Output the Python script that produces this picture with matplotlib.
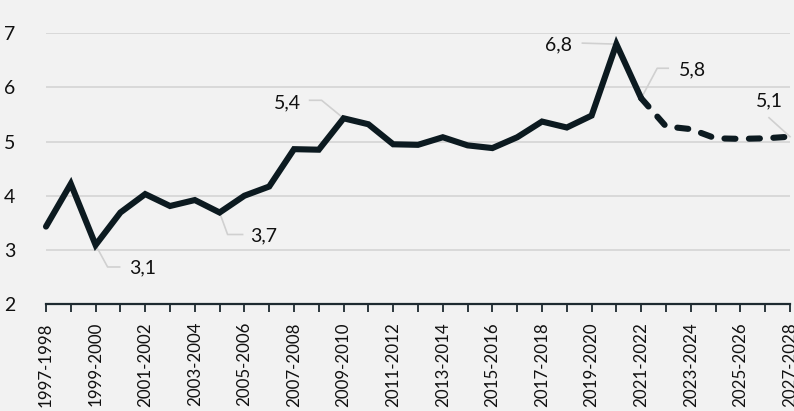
import matplotlib
matplotlib.use("Agg")
import matplotlib.pyplot as plt
from matplotlib.transforms import IdentityTransform
import numpy as np

plt.rcParams['font.family'] = ['Lato', 'DejaVu Sans']

years = [f"{y}-{y+1}" for y in range(1997, 2028)]
values = [3.43, 4.22, 3.09, 3.69, 4.03, 3.81, 3.92, 3.69, 4.00, 4.17,
          4.86, 4.85, 5.43, 5.32, 4.95, 4.94, 5.08, 4.93, 4.88, 5.08,
          5.37, 5.26, 5.48, 6.80, 5.80, 5.28, 5.23, 5.06, 5.05, 5.06, 5.09]
forecast_start = 24  # index from which the line is dashed
labels = {2: "3,1", 7: "3,7", 12: "5,4", 23: "6,8", 24: "5,8", 30: "5,1"}

# leader-line offsets (pixels, y down) and text centre offsets
leader = {2: [(12, 22), (24, 22)], 7: [(8, 22), (23, 22)],
          12: [(-22, -18), (-34, -18)], 23: [(-34, -1)],
          24: [(16, -30), (27, -30)], 30: [(-21, -19)]}
textoff = {2: (47, 23), 7: (44, 23), 12: (-56, -15), 23: (-58, 1),
           24: (51, -28), 30: (-21, -36)}

BG = '#f2f2f2'
LC = '#0c1a20'

fig = plt.figure(figsize=(7.94, 4.11), dpi=100, facecolor=BG)
ax = fig.add_axes([46/794, (411-304)/411, (790-46)/794, (304-33.3)/411])
ax.set_facecolor(BG)

x = np.arange(len(values))
ax.plot(x[:forecast_start+1], values[:forecast_start+1], color=LC, lw=4.4,
        solid_capstyle='round', solid_joinstyle='miter', clip_on=False, zorder=3)
ax.plot(x[forecast_start:], values[forecast_start:], color=LC, lw=4.4,
        dashes=(1.8, 2.2), dash_capstyle='round', clip_on=False, zorder=3)

ax.set_xlim(0, len(values)-1)
ax.set_ylim(2, 7)
ax.set_yticks([2, 3, 4, 5, 6, 7])
ax.yaxis.grid(True, color='#d9d9d9', lw=1.4)
ax.set_axisbelow(True)
ax.tick_params(axis='y', length=0, pad=22, labelsize=14, labelcolor='#111111')
ax.set_xticks(x)
ax.set_xticklabels([lab if i % 2 == 0 else '' for i, lab in enumerate(years)],
                   rotation=90, fontsize=12.2, color='#111111')
ax.tick_params(axis='x', length=6, width=1.3, color='#1e2a30', pad=7, direction='out')
for s in ['top', 'right', 'left']:
    ax.spines[s].set_visible(False)
ax.spines['bottom'].set_color('#1e2a30')
ax.spines['bottom'].set_linewidth(1.6)

fig.canvas.draw()
for i, txt in labels.items():
    px, py = ax.transData.transform((i, values[i]))
    pts = [(px, py)] + [(px + dx, py - dy) for dx, dy in leader[i]]
    xs, ys = zip(*pts)
    ax.plot(xs, ys, color='#d0d0d0', lw=1.2, transform=IdentityTransform(),
            clip_on=False, zorder=2)
    tx, ty = textoff[i]
    ax.text(px + tx, py - ty, txt, transform=IdentityTransform(), ha='center',
            va='center', fontsize=14, color='#111111', zorder=4)

fig.savefig('out.png', dpi=100, facecolor=BG)
